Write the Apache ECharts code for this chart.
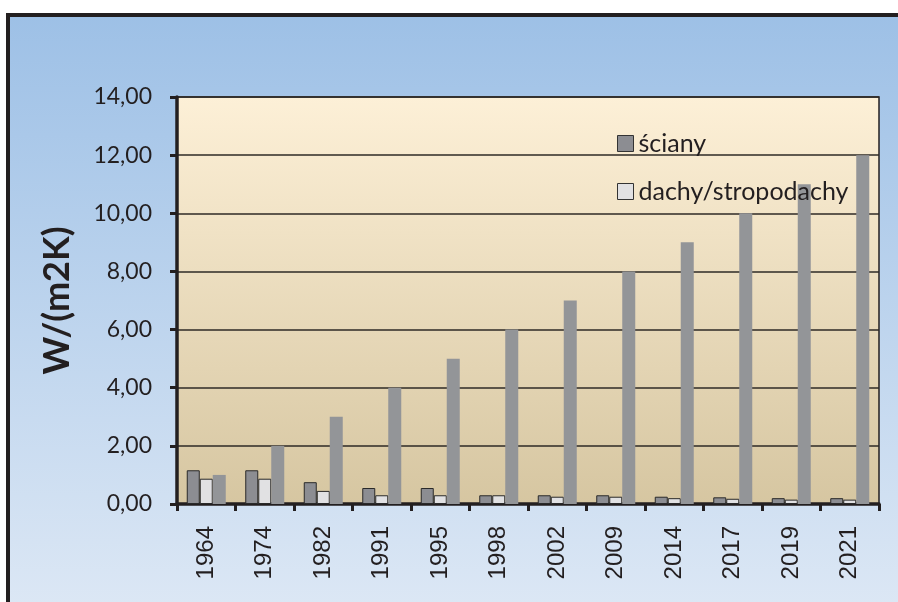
<!DOCTYPE html>
<html><head><meta charset="utf-8">
<script src="https://cdn.jsdelivr.net/npm/echarts@6/dist/echarts.min.js"></script>
<style>html,body{margin:0;padding:0;background:#fff}#c{width:898px;height:602px}</style>
</head><body><div id="c"></div>
<script>
const categories = ['1964','1974','1982','1991','1995','1998','2002','2009','2014','2017','2019','2021'];
const sciany = [1.16,1.16,0.75,0.55,0.55,0.30,0.30,0.30,0.25,0.23,0.20,0.20];
const dachy  = [0.87,0.87,0.45,0.30,0.30,0.30,0.25,0.25,0.20,0.18,0.15,0.15];
const seria3 = [1,2,3,4,5,6,7,8,9,10,11,12];
const legendNames = ['ściany','dachy/stropodachy'];
const yAxisTitle = 'W/(m2K)';
const yMin = 0, yMax = 14, yStep = 2;

const chart = echarts.init(document.getElementById('c'), null, {renderer:'canvas'});
const dark = '#231f20';
chart.setOption({
  animation:false,
  backgroundColor:'#ffffff',
  graphic:{elements:[{
    type:'rect', z:-10, silent:true,
    shape:{x:8, y:15, width:900, height:600},
    style:{
      fill:new echarts.graphic.LinearGradient(0,0,0,1,[{offset:0,color:'#9dc0e6'},{offset:1,color:'#dde8f5'}]),
      stroke:dark, lineWidth:4
    }
  }]},
  grid:{
    left:177, right:19, top:97, bottom:98, containLabel:false,
    show:true, borderColor:dark, borderWidth:1.5,
    backgroundColor:new echarts.graphic.LinearGradient(0,0,0,1,[{offset:0,color:'#fdf0d7'},{offset:1,color:'#d6c6a1'}])
  },
  legend:{
    data:legendNames, orient:'vertical', left:617, top:131, padding:0,
    icon:'rect', itemWidth:16, itemHeight:16, itemGap:23,
    textStyle:{fontFamily:'Lato', fontSize:25, color:'#231f20', lineHeight:24},
    itemStyle:{borderColor:'#333', borderWidth:1}
  },
  xAxis:{
    type:'category', data:categories,
    axisLine:{lineStyle:{color:dark, width:3.5}},
    axisTick:{show:true, length:7, lineStyle:{color:dark, width:3}},
    axisLabel:{rotate:90, margin:22, fontFamily:'Liberation Sans', fontSize:24, color:'#231f20'}
  },
  yAxis:{
    type:'value', min:yMin, max:yMax, interval:yStep,
    name:yAxisTitle, nameLocation:'middle', nameGap:102, nameRotate:90,
    nameTextStyle:{fontFamily:'Lato', fontWeight:'bold', fontSize:36, color:'#231f20'},
    axisLine:{show:true, lineStyle:{color:dark, width:3.5}},
    axisTick:{show:true, length:7, lineStyle:{color:dark, width:3}},
    axisLabel:{margin:25, fontFamily:'Lato', fontSize:23, color:'#231f20', padding:[6,0,0,0],
      formatter:v=>v.toFixed(2).replace('.',',')},
    splitLine:{show:true, lineStyle:{color:'#2e2a26', width:1.6}}
  },
  series:[
    {name:'ściany', type:'bar', data:sciany, barWidth:13, barGap:'0%',
      itemStyle:{color:'#8c8d92', borderColor:'#2a2a2a', borderWidth:1}},
    {name:'dachy/stropodachy', type:'bar', data:dachy, barWidth:13, barGap:'0%',
      itemStyle:{color:'#e1e1e3', borderColor:'#2a2a2a', borderWidth:1}},
    {name:'seria3', type:'bar', data:seria3, barWidth:13, barGap:'0%',
      itemStyle:{color:'#939598'}}
  ]
});
</script></body></html>
